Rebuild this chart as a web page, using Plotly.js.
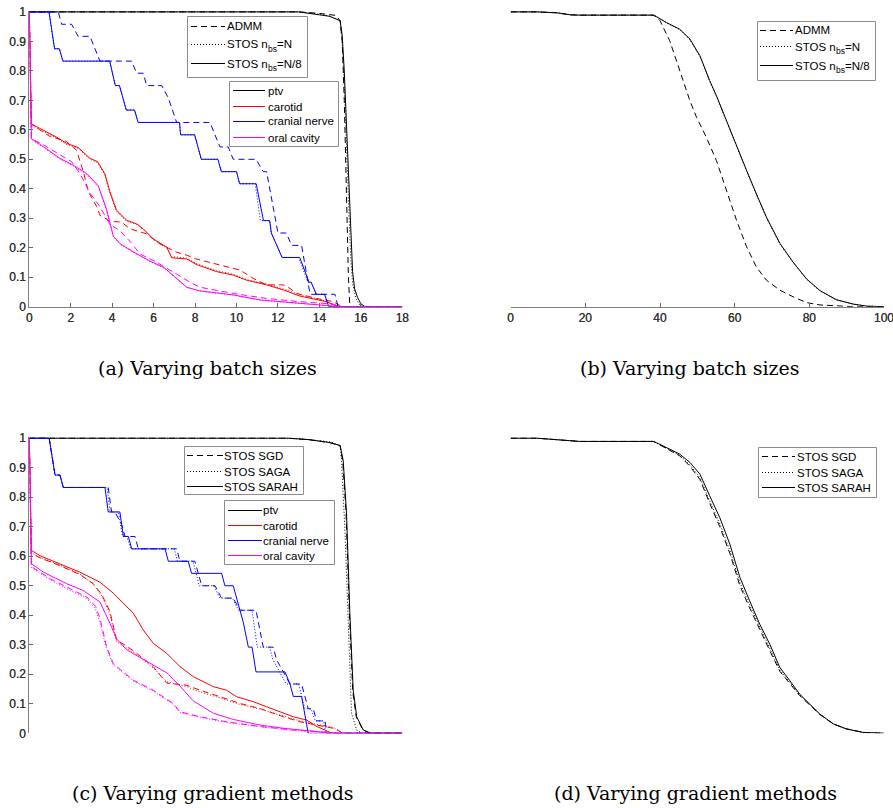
<!DOCTYPE html>
<html>
<head>
<meta charset="utf-8">
<script src="https://cdn.plot.ly/plotly-3.0.1.min.js"></script>
<style>html,body{margin:0;padding:0;background:#fff;}#chart{width:893px;height:808px;}</style>
</head>
<body>
<div id="chart"></div>
<script>
// ---------- tick labels & texts ----------
const yTickVals = [0,0.1,0.2,0.3,0.4,0.5,0.6,0.7,0.8,0.9,1];
const yTickText = ['0','0.1','0.2','0.3','0.4','0.5','0.6','0.7','0.8','0.9','1'];
const xTickDose = [0,2,4,6,8,10,12,14,16,18];
const xTickPct = [0,20,40,60,80,100];
const captions = ['(a) Varying batch sizes','(b) Varying batch sizes','(c) Varying gradient methods','(d) Varying gradient methods'];
const structures = ['ptv','carotid','cranial nerve','oral cavity'];
const methodsA = ['ADMM','STOS n<sub>bs</sub>=N','STOS n<sub>bs</sub>=N/8'];
const methodsC = ['STOS SGD','STOS SAGA','STOS SARAH'];

// ---------- panel (a): DVH, varying batch sizes ----------
const a_ptv_admm_x = [0,13,14,14.8,15.0,15.1,15.2,15.3,15.4,15.47,18];
const a_ptv_admm_y = [1,1,0.995,0.988,0.97,0.9,0.7,0.4,0.1,0,0];
const a_ptv_n_x = [0,13,14,14.5,15.0,15.1,15.2,15.3,15.4,15.5,15.6,15.75,15.9,16.1,18];
const a_ptv_n_y = [1,1,0.992,0.985,0.97,0.9,0.75,0.55,0.35,0.18,0.08,0.03,0.01,0,0];
const a_ptv_n8_x = [0,13,14,14.5,15.0,15.1,15.2,15.3,15.4,15.5,15.6,15.7,15.85,16.0,16.2,18];
const a_ptv_n8_y = [1,1,0.99,0.985,0.97,0.92,0.8,0.62,0.42,0.25,0.12,0.06,0.03,0.01,0,0];

const a_car_admm_x = [0,0.1,0.5,1.0,1.56,1.8,2.28,2.6,2.85,3.25,3.41,3.89,4.45,4.86,5.66,6.3,7.1,7.59,8.0,8.56,9.52,10.17,10.81,11.45,12.26,12.58,12.9,13.87,14.67,15.0,15.1,18];
const a_car_admm_y = [1,0.62,0.6,0.577,0.566,0.56,0.53,0.46,0.39,0.34,0.31,0.29,0.287,0.264,0.247,0.213,0.185,0.175,0.163,0.153,0.136,0.124,0.096,0.074,0.074,0.062,0.045,0.028,0.017,0.006,0,0];
const a_car_n_x = [0,0.1,0.5,1.32,1.8,2.36,2.93,3.3,3.65,3.89,4.21,4.7,5.18,5.5,5.98,6.63,6.87,7.59,8.1,9.04,9.84,10.49,11.45,12.26,13.06,13.87,14.35,14.67,15.0,18];
const a_car_n_y = [1,0.615,0.6,0.572,0.55,0.537,0.5,0.488,0.445,0.385,0.322,0.29,0.278,0.262,0.228,0.2,0.17,0.165,0.145,0.122,0.11,0.092,0.077,0.06,0.04,0.026,0.019,0.008,0,0];
const a_car_n8_x = [0,0.1,0.5,1.32,1.8,2.36,2.93,3.3,3.65,3.89,4.21,4.7,5.18,5.5,5.98,6.63,6.87,7.59,8.1,9.04,9.84,10.49,11.45,12.26,13.06,13.87,14.35,14.67,15.0,18];
const a_car_n8_y = [1,0.62,0.605,0.575,0.554,0.54,0.503,0.492,0.45,0.39,0.327,0.293,0.281,0.264,0.23,0.202,0.166,0.162,0.142,0.119,0.107,0.09,0.074,0.057,0.036,0.023,0.017,0.006,0,0];

const a_cn_admm_x = [0,1.4,1.56,2.04,2.36,2.93,3.17,3.41,4.94,5.18,5.5,5.66,6.39,6.71,7.11,8.72,8.96,9.2,9.6,9.84,10.94,11.29,11.45,12.0,12.4,12.66,13.14,13.55,14.75,14.9,18];
const a_cn_admm_y = [1,1,0.958,0.958,0.917,0.917,0.875,0.833,0.833,0.792,0.792,0.75,0.75,0.708,0.625,0.625,0.583,0.542,0.542,0.5,0.5,0.458,0.458,0.25,0.25,0.208,0.208,0.042,0.042,0,0];
const a_cn_n_x = [0,0.95,1.22,1.45,1.62,3.88,4.15,4.35,4.68,5.08,5.25,7.25,7.3,7.98,8.3,9.1,9.27,10.0,10.15,10.9,11.15,11.6,11.68,12.2,13.0,13.45,13.6,13.85,14.25,14.45,18];
const a_cn_n_y = [1,1,0.875,0.875,0.833,0.833,0.75,0.75,0.667,0.667,0.625,0.625,0.583,0.583,0.5,0.5,0.458,0.458,0.417,0.417,0.292,0.292,0.25,0.167,0.167,0.083,0.083,0.042,0.042,0,0];
const a_cn_n8_x = [0,0.95,1.22,1.45,1.62,3.88,4.15,4.35,4.68,5.08,5.25,7.25,7.3,7.98,8.3,9.1,9.27,10.0,10.15,10.95,11.3,11.6,11.68,12.2,13.05,13.5,13.6,13.85,14.25,14.45,18];
const a_cn_n8_y = [1,1,0.875,0.875,0.833,0.833,0.75,0.75,0.667,0.667,0.625,0.625,0.583,0.583,0.5,0.5,0.458,0.458,0.417,0.417,0.292,0.292,0.25,0.167,0.167,0.083,0.083,0.042,0.042,0,0];

const a_oc_admm_x = [0,0.1,0.68,1.48,2.04,2.44,2.93,3.41,3.73,3.89,4.37,4.94,5.34,6.14,7.1,7.75,8.24,9.84,11.45,13.06,14.67,15.0,18];
const a_oc_admm_y = [1,0.57,0.549,0.515,0.492,0.452,0.385,0.339,0.3,0.279,0.258,0.215,0.179,0.151,0.111,0.083,0.066,0.045,0.028,0.017,0.009,0,0];
const a_oc_n_x = [0,0.1,0.68,1.48,2.12,2.77,3.33,3.73,4.05,4.38,5.02,5.82,6.5,6.95,7.27,7.6,8.2,8.88,9.84,11.13,12.26,13.87,14.67,15.0,18];
const a_oc_n_y = [1,0.567,0.54,0.5,0.477,0.448,0.405,0.325,0.238,0.212,0.184,0.153,0.131,0.104,0.084,0.065,0.053,0.047,0.039,0.022,0.016,0.005,0.002,0,0];
const a_oc_n8_x = [0,0.1,0.68,1.48,2.12,2.77,3.33,3.73,4.05,4.38,5.02,5.82,6.5,6.95,7.27,7.6,8.2,8.88,9.84,11.13,12.26,13.87,14.67,15.0,18];
const a_oc_n8_y = [1,0.57,0.543,0.503,0.48,0.452,0.41,0.33,0.24,0.214,0.186,0.155,0.133,0.105,0.085,0.066,0.054,0.048,0.04,0.023,0.017,0.006,0.002,0,0];

// ---------- panel (b): varying batch sizes ----------
const b_admm_x = [0,7,12.3,16,18.5,38.2,39,40,42.6,45.3,48,49.8,52.4,55.1,57.8,60.5,63.2,65.8,68.5,72.1,75.6,79.2,82.8,87.2,91.7,100];
const b_admm_y = [1,1,0.997,0.99,0.989,0.989,0.984,0.97,0.902,0.8,0.699,0.642,0.575,0.496,0.395,0.293,0.203,0.135,0.09,0.056,0.034,0.014,0.006,0.002,0,0];
const b_n_x = [0,7,12.3,16,18.5,38.2,39,41.7,45.3,48,50.7,53.3,55.1,57.8,60.5,63.2,65.8,68.5,72.1,75.6,79.2,82.8,87.2,91.7,95.3,100];
const b_n_y = [1,1,0.997,0.99,0.989,0.989,0.984,0.963,0.94,0.906,0.849,0.765,0.714,0.629,0.539,0.46,0.381,0.302,0.213,0.151,0.094,0.054,0.023,0.009,0.002,0];
const b_n8_x = [0,7,12.3,16,18.5,38.2,39,41.7,45.3,48,50.7,53.3,55.1,57.8,60.5,63.2,65.8,68.5,72.1,75.6,79.2,82.8,87.2,91.7,95.3,100];
const b_n8_y = [1,1,0.997,0.99,0.989,0.989,0.984,0.964,0.941,0.908,0.851,0.767,0.716,0.631,0.541,0.462,0.383,0.304,0.215,0.152,0.095,0.055,0.024,0.009,0.002,0];

// ---------- panel (c): DVH, varying gradient methods ----------
const c_ptv_sgd_x = [0,12.5,13.5,14.5,15.0,15.13,15.29,15.45,15.61,15.78,16.1,16.45,18];
const c_ptv_sgd_y = [1,1,0.995,0.985,0.975,0.92,0.74,0.4,0.14,0.055,0.011,0,0];
const c_ptv_saga_x = [0,12.5,13.5,14.5,15.0,15.07,15.23,15.39,15.55,15.8,16.05,18];
const c_ptv_saga_y = [1,1,0.995,0.988,0.975,0.92,0.69,0.35,0.068,0.011,0,0];
const c_ptv_sarah_x = [0,12.5,13.5,14.5,15.0,15.15,15.31,15.47,15.63,15.8,16.12,16.5,18];
const c_ptv_sarah_y = [1,1,0.995,0.985,0.975,0.923,0.743,0.405,0.146,0.056,0.011,0,0];

const c_car_sgd_x = [0,0.1,0.5,1.48,2.44,3.09,3.5,3.89,4.21,5.02,5.98,6.63,7.59,8.24,9.2,10.17,11.13,12.26,13.06,13.87,14.67,15.0,15.1,18];
const c_car_sgd_y = [1,0.61,0.595,0.568,0.538,0.507,0.47,0.413,0.317,0.28,0.226,0.17,0.163,0.146,0.124,0.101,0.084,0.056,0.039,0.028,0.017,0.006,0,0];
const c_car_saga_x = [0,0.1,0.5,1.48,2.44,3.09,3.5,3.89,4.21,5.02,5.98,6.63,7.59,8.24,9.2,10.17,11.13,12.26,13.06,13.87,14.67,15.0,15.1,18];
const c_car_saga_y = [1,0.612,0.597,0.57,0.54,0.505,0.465,0.405,0.31,0.275,0.222,0.175,0.158,0.14,0.12,0.098,0.082,0.058,0.042,0.03,0.02,0.008,0,0];
const c_car_sarah_x = [0,0.1,0.51,1.48,2.44,3.41,4.05,5.02,5.5,5.98,6.63,7.27,7.91,8.88,9.52,10.0,10.81,11.45,12.26,12.74,13.38,13.87,14.27,14.5,14.6,18];
const c_car_sarah_y = [1,0.62,0.602,0.574,0.546,0.512,0.475,0.407,0.35,0.305,0.271,0.226,0.192,0.158,0.146,0.124,0.107,0.09,0.068,0.056,0.045,0.023,0.011,0.002,0,0];

const c_cn_sgd_x = [0,0.96,1.24,1.48,1.64,3.81,3.97,4.13,4.45,4.62,5.1,5.26,7.11,7.27,7.99,8.32,8.96,9.28,9.84,10.17,10.94,11.29,11.77,11.93,12.58,13.14,13.46,13.7,13.87,14.27,14.35,18];
const c_cn_sgd_y = [1,1,0.875,0.875,0.833,0.833,0.75,0.75,0.708,0.667,0.667,0.625,0.625,0.583,0.583,0.5,0.5,0.458,0.458,0.417,0.417,0.292,0.292,0.25,0.167,0.167,0.083,0.083,0.042,0.042,0,0];
const c_cn_saga_x = [0,0.96,1.24,1.48,1.64,3.75,3.9,4.3,4.5,4.7,4.9,7.0,7.15,7.9,8.2,8.9,9.2,9.8,10.1,10.75,11.0,11.6,11.75,12.4,13.0,13.3,13.6,13.8,14.2,14.3,18];
const c_cn_saga_y = [1,1,0.875,0.875,0.833,0.833,0.75,0.75,0.667,0.667,0.625,0.625,0.583,0.583,0.5,0.5,0.458,0.458,0.417,0.417,0.292,0.292,0.25,0.167,0.167,0.083,0.083,0.042,0.042,0,0];
const c_cn_sarah_x = [0,0.96,1.24,1.48,1.64,3.65,3.81,4.37,4.54,4.78,4.94,6.55,6.71,7.67,7.83,9.28,9.44,9.84,10.33,10.57,10.75,10.94,12.34,12.58,12.74,13.14,13.46,18];
const c_cn_sarah_y = [1,1,0.875,0.875,0.833,0.833,0.75,0.75,0.667,0.667,0.625,0.625,0.583,0.583,0.542,0.542,0.5,0.5,0.375,0.292,0.292,0.208,0.208,0.167,0.125,0.125,0,0];

const c_oc_sgd_x = [0,0.1,1.0,1.8,2.77,3.2,3.41,3.73,4.05,5.02,5.98,6.95,7.27,8.24,9.52,11.13,12.74,14.67,15.0,18];
const c_oc_sgd_y = [1,0.565,0.524,0.495,0.462,0.43,0.39,0.293,0.236,0.18,0.146,0.101,0.073,0.056,0.039,0.023,0.011,0.002,0,0];
const c_oc_saga_x = [0,0.1,1.0,1.8,2.77,3.2,3.41,3.73,4.05,5.02,5.98,6.95,7.27,8.24,9.52,11.13,12.74,14.67,15.0,18];
const c_oc_saga_y = [1,0.562,0.52,0.49,0.458,0.42,0.375,0.285,0.232,0.177,0.143,0.098,0.07,0.054,0.037,0.022,0.01,0.002,0,0];
const c_oc_sarah_x = [0,0.1,0.68,1.8,2.6,3.41,3.89,4.21,4.7,5.82,6.63,7.27,7.91,8.88,9.84,11.13,12.26,13.87,14.5,18];
const c_oc_sarah_y = [1,0.575,0.546,0.507,0.484,0.445,0.373,0.32,0.283,0.238,0.205,0.16,0.11,0.068,0.047,0.028,0.017,0.006,0,0];

// ---------- panel (d): varying gradient methods ----------
const d_x = [0,7,18.5,38.2,39,42.6,45.3,48,50.7,53.3,56,58.7,61.4,64,66.7,69.4,72.1,74.8,77.4,80.1,82.8,86.4,89.9,94.4,100];
const d_sgd_y = [1,1,0.989,0.989,0.984,0.958,0.94,0.905,0.86,0.78,0.70,0.61,0.50,0.425,0.35,0.28,0.21,0.17,0.128,0.096,0.064,0.032,0.015,0.003,0];
const d_saga_y = [1,1,0.989,0.989,0.984,0.96,0.942,0.91,0.866,0.788,0.71,0.62,0.51,0.435,0.36,0.29,0.215,0.172,0.13,0.098,0.065,0.032,0.015,0.003,0];
const d_sarah_y = [1,1,0.989,0.989,0.985,0.963,0.946,0.918,0.878,0.805,0.731,0.641,0.528,0.449,0.37,0.302,0.223,0.178,0.133,0.099,0.065,0.032,0.015,0.003,0];

// ---------- styles ----------
const COL = {ptv:'#000000', carotid:'#ff0000', 'cranial nerve':'#0000ff', 'oral cavity':'#ff00ff'};
const DASH = ['6px,4px','1px,2px','solid'];
const LW = 1;
const W = 893, H = 808;

const traces = [];
function curve(ax, x, y, color, dash) {
  traces.push({type:'scatter', mode:'lines', x:x, y:y, xaxis:'x'+(ax===1?'':ax), yaxis:'y'+(ax===1?'':ax),
    line:{color:color, width:LW, dash:dash}, showlegend:false, hoverinfo:'skip'});
}
const aData = {
  ptv:[[a_ptv_admm_x,a_ptv_admm_y],[a_ptv_n_x,a_ptv_n_y],[a_ptv_n8_x,a_ptv_n8_y]],
  carotid:[[a_car_admm_x,a_car_admm_y],[a_car_n_x,a_car_n_y],[a_car_n8_x,a_car_n8_y]],
  'cranial nerve':[[a_cn_admm_x,a_cn_admm_y],[a_cn_n_x,a_cn_n_y],[a_cn_n8_x,a_cn_n8_y]],
  'oral cavity':[[a_oc_admm_x,a_oc_admm_y],[a_oc_n_x,a_oc_n_y],[a_oc_n8_x,a_oc_n8_y]]
};
const cData = {
  ptv:[[c_ptv_sgd_x,c_ptv_sgd_y],[c_ptv_saga_x,c_ptv_saga_y],[c_ptv_sarah_x,c_ptv_sarah_y]],
  carotid:[[c_car_sgd_x,c_car_sgd_y],[c_car_saga_x,c_car_saga_y],[c_car_sarah_x,c_car_sarah_y]],
  'cranial nerve':[[c_cn_sgd_x,c_cn_sgd_y],[c_cn_saga_x,c_cn_saga_y],[c_cn_sarah_x,c_cn_sarah_y]],
  'oral cavity':[[c_oc_sgd_x,c_oc_sgd_y],[c_oc_saga_x,c_oc_saga_y],[c_oc_sarah_x,c_oc_sarah_y]]
};
structures.forEach(s => { for (let m=0;m<3;m++) curve(1, aData[s][m][0], aData[s][m][1], COL[s], DASH[m]); });
structures.forEach(s => { for (let m=0;m<3;m++) curve(3, cData[s][m][0], cData[s][m][1], COL[s], DASH[m]); });
curve(2, b_admm_x, b_admm_y, '#000', DASH[0]);
curve(2, b_n_x, b_n_y, '#000', DASH[1]);
curve(2, b_n8_x, b_n8_y, '#000', DASH[2]);
curve(4, d_x, d_sgd_y, '#000', DASH[0]);
curve(4, d_x, d_saga_y, '#000', DASH[1]);
curve(4, d_x, d_sarah_y, '#000', DASH[2]);

// ---------- legends (boxes, sample lines and text, MATLAB-style) ----------
const shapes = [];
const annotations = [];
const LEG_FAMILY = 'Liberation Sans, Arial, sans-serif';
const LEG_SIZE = 11.5, SUB_SIZE = 8.5;
const measureCtx = document.createElement('canvas').getContext('2d');
function textWidth(t, size) { measureCtx.font = size + 'px "Liberation Sans", Arial, sans-serif'; return measureCtx.measureText(t).width; }
function px(x){ return x/W; }
function py(y){ return 1 - y/H; }
function addText(t, x, y, size) {
  annotations.push({text:t, xref:'paper', yref:'paper', x:px(x), y:py(y), xanchor:'left', yanchor:'middle',
    showarrow:false, font:{family:LEG_FAMILY, size:size, color:'#000'}, borderpad:0, borderwidth:0});
}
// label with optional subscript: split into main / subscript / rest so each piece is plain text
function addLabel(lab, x, y) {
  const m = lab.match(/^(.*?)<sub>(.*?)<\/sub>(.*)$/);
  if (!m) { addText(lab, x, y, LEG_SIZE); return; }
  const w1 = textWidth(m[1], LEG_SIZE), w2 = textWidth(m[2], SUB_SIZE);
  addText(m[1], x, y, LEG_SIZE);
  addText(m[2], x + w1, y + 4, SUB_SIZE);
  addText(m[3], x + w1 + w2, y, LEG_SIZE);
}
function legendBox(box, rowsY, sample, textX, labels, colors, dashes) {
  shapes.push({type:'rect', xref:'paper', yref:'paper', x0:px(box[0]), x1:px(box[2]), y0:py(box[3]), y1:py(box[1]),
    fillcolor:'#ffffff', line:{color:'#8c8c8c', width:1}, layer:'above'});
  labels.forEach((lab, i) => {
    shapes.push({type:'line', xref:'paper', yref:'paper', x0:px(sample[0]), x1:px(sample[1]), y0:py(rowsY[i]), y1:py(rowsY[i]),
      line:{color:colors[i], width:1, dash:dashes[i]}, layer:'above'});
    addLabel(lab, textX, rowsY[i]);
  });
}
const blackDash = ['#000','#000','#000'];
const structCols = structures.map(s => COL[s]);
const solid4 = ['solid','solid','solid','solid'];
legendBox([187.5,16.5,307.5,77.5], [26.5,44.5,63.5], [191,225], 227, methodsA, blackDash, DASH);
legendBox([229.5,81.5,338.5,146.5], [90.5,106.5,121.5,137.5], [233,265], 268, structures, structCols, solid4);
legendBox([757.5,21.5,875.5,80.5], [30.5,46.5,65.5], [760,793], 795, methodsA, blackDash, DASH);
legendBox([184.5,446.5,303.5,494.5], [455.5,471.5,486.5], [187,223], 224, methodsC, blackDash, DASH);
legendBox([224.5,500.5,334.5,564.5], [510.5,525.5,540.5,555.5], [228,262], 263, structures, structCols, solid4);
legendBox([758.5,447.5,876.5,497.5], [456.5,472.5,487.5], [762,795], 797, methodsC, blackDash, DASH);

// ---------- captions ----------
const capFont = {family:'DejaVu Serif, serif', size:19, color:'#000'};
const capPos = [[207,368],[690,368],[213,793],[695,793]];
captions.forEach((c,i) => annotations.push({text:c, x:px(capPos[i][0]), y:py(capPos[i][1]), xref:'paper', yref:'paper',
  showarrow:false, font:capFont, xanchor:'center', yanchor:'middle'}));

// ---------- axes ----------
const tickFont = {family:'Liberation Sans, Arial, sans-serif', size:12, color:'#333'};
function xax(l, r, vals, range) {
  return {domain:[l/W, r/W], range:range, tickvals:vals, ticks:'inside', ticklen:4, tickcolor:'#666',
    showline:true, linecolor:'#808080', linewidth:1, mirror:false, zeroline:false, showgrid:false,
    tickfont:tickFont, fixedrange:true, ticklabeloverflow:'allow'};
}
function yax(top, bottom) {
  return {domain:[(H-bottom)/H, (H-top)/H], range:[0,1.003], tickvals:yTickVals, ticktext:yTickText,
    ticks:'inside', ticklen:4, tickcolor:'#666', showline:true, linecolor:'#808080', linewidth:1,
    mirror:false, zeroline:false, showgrid:false, tickfont:tickFont, fixedrange:true};
}
const layout = {
  width:W, height:H, margin:{l:0,r:0,t:0,b:0}, paper_bgcolor:'#fff', plot_bgcolor:'rgba(0,0,0,0)',
  showlegend:false,
  xaxis: xax(29.3, 402.3, xTickDose, [0,18]),
  yaxis: yax(11, 306.7),
  xaxis2: xax(510.7, 884, xTickPct, [0,100]),
  yaxis2: yax(11, 306.7),
  xaxis3: xax(29.3, 402.3, xTickDose, [0,18]),
  yaxis3: yax(437.3, 733.3),
  xaxis4: xax(510.7, 884, xTickPct, [0,100]),
  yaxis4: yax(437.3, 733.3),
  shapes: shapes,
  annotations: annotations
};
Plotly.newPlot('chart', traces, layout, {staticPlot:true, displayModeBar:false});
</script>
</body>
</html>
